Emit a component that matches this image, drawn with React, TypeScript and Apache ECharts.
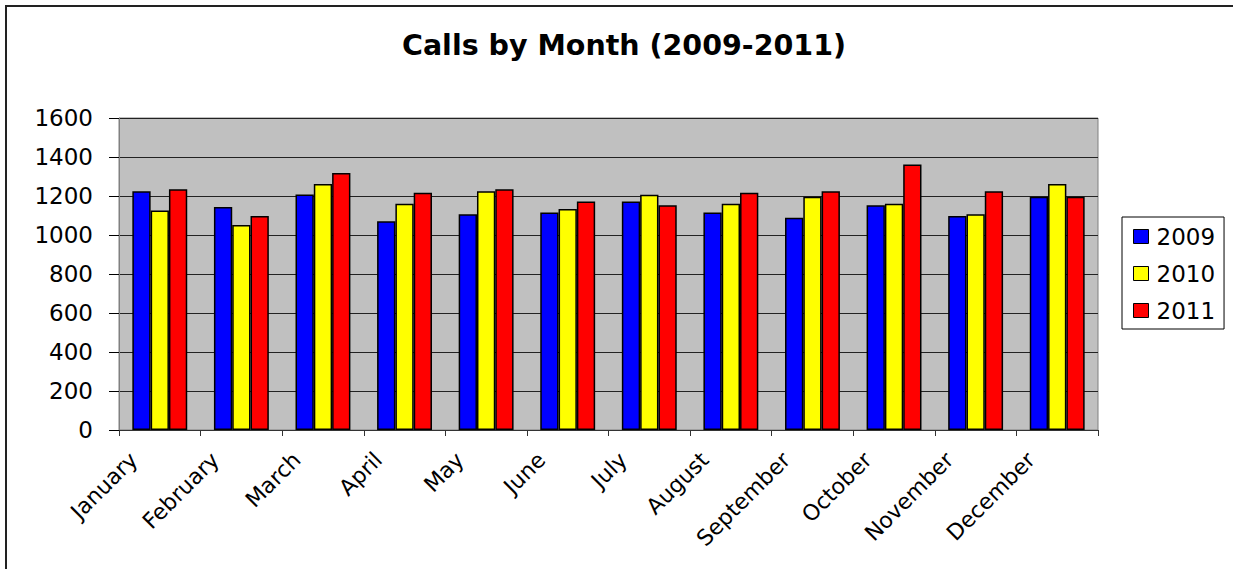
import React, { useEffect, useRef } from "react";
import * as echarts from "echarts";

const months = ["January", "February", "March", "April", "May", "June", "July", "August", "September", "October", "November", "December"];
const series2009 = [1225, 1143, 1208, 1071, 1106, 1116, 1172, 1116, 1089, 1152, 1097, 1196];
const series2010 = [1126, 1051, 1261, 1160, 1225, 1133, 1206, 1160, 1196, 1160, 1107, 1261];
const series2011 = [1234, 1097, 1318, 1217, 1234, 1172, 1152, 1217, 1225, 1362, 1225, 1196];
const seriesNames = ["2009", "2010", "2011"];
const seriesColors = ["#0000FF", "#FFFF00", "#FF0000"];
const yTicks = { min: 0, max: 1600, interval: 200 };

const FONT = "'DejaVu Sans', sans-serif";

export default function App() {
  const ref = useRef<HTMLDivElement>(null);
  useEffect(() => {
    if (!ref.current) return;
    const chart = echarts.init(ref.current, undefined, { renderer: "svg" });
    const data = [series2009, series2010, series2011];
    chart.setOption({
      animation: false,
      backgroundColor: "#FFFFFF",
      title: {
        text: "Calls by Month (2009-2011)",
        left: 624,
        textAlign: "center",
        top: 31,
        padding: 0,
        textStyle: { fontFamily: FONT, fontWeight: "bold", fontSize: 28.5, color: "#000" },
      },
      graphic: [
        {
          type: "line",
          shape: { x1: 6, y1: 5, x2: 6, y2: 569 },
          style: { stroke: "#222", lineWidth: 2 },
          silent: true,
        },
        {
          type: "line",
          shape: { x1: 5, y1: 6, x2: 1233, y2: 6 },
          style: { stroke: "#222", lineWidth: 2 },
          silent: true,
        },
      ],
      legend: {
        orient: "vertical",
        left: 1122,
        top: 217,
        padding: [8, 9, 7, 11],
        itemGap: 14,
        itemWidth: 15,
        itemHeight: 14,
        borderColor: "#000",
        borderWidth: 1,
        backgroundColor: "#fff",
        icon: "rect",
        itemStyle: { borderColor: "#000", borderWidth: 1 },
        textStyle: { fontFamily: FONT, fontSize: 23, color: "#000", padding: [0, 0, 0, 3] },
        data: seriesNames,
      },
      grid: {
        left: 119,
        right: 135,
        top: 118,
        bottom: 139,
        show: true,
        backgroundColor: "#C0C0C0",
        borderColor: "#808080",
        borderWidth: 1,
      },
      xAxis: {
        type: "category",
        data: months,
        axisLine: { lineStyle: { color: "#333", width: 1 } },
        axisTick: { show: true, length: 6, lineStyle: { color: "#333" } },
        axisLabel: {
          rotate: 45,
          interval: 0,
          margin: 0,
          fontFamily: FONT,
          fontSize: 22,
          color: "#000",
          padding: [0, 37, 0, 0],
        },
      },
      yAxis: {
        type: "value",
        min: yTicks.min,
        max: yTicks.max,
        interval: yTicks.interval,
        axisLine: { show: true, lineStyle: { color: "#808080" } },
        axisTick: { show: true, length: 10, lineStyle: { color: "#000" } },
        splitLine: { show: true, lineStyle: { color: "#222", width: 1 } },
        axisLabel: {
          fontFamily: FONT,
          fontSize: 23,
          color: "#000",
          margin: 26,
          formatter: (v: number) => String(v),
        },
      },
      series: seriesNames.map((name, i) => ({
        name,
        type: "bar",
        data: data[i],
        barWidth: 18.3,
        barGap: "0%",
        itemStyle: { color: seriesColors[i], borderColor: "#000", borderWidth: 1.5 },
      })),
    });
    return () => chart.dispose();
  }, []);
  return <div ref={ref} style={{ position: "fixed", left: 0, top: 0, width: 1233, height: 569 }} />;
}
